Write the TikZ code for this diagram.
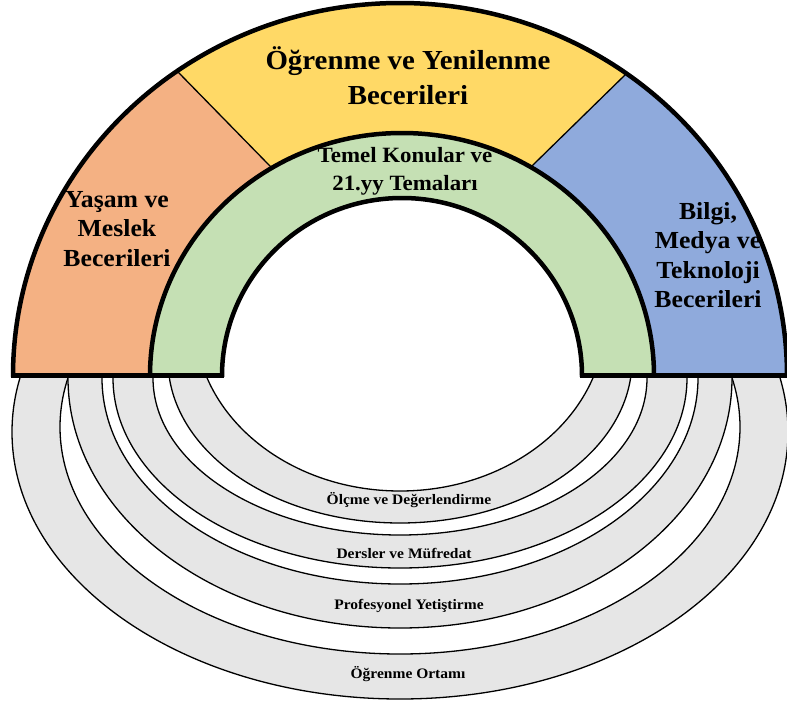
\documentclass[tikz,border=0pt]{standalone}
\usepackage{fontspec}
\setmainfont{Liberation Serif}
\newfontfamily\baslik[FakeStretch=1.05]{Liberation Serif}
\newfontfamily\altbaslik[FakeStretch=1.07]{Liberation Serif}
\usepackage{xcolor}
\usepackage{tikz}

\definecolor{turuncu}{HTML}{F4B183}
\definecolor{sari}{HTML}{FFD966}
\definecolor{yesil}{HTML}{C5E0B4}
\definecolor{mavi}{HTML}{8FAADC}
\definecolor{gri}{HTML}{E6E6E6}

\tikzset{
	kalin/.style={line width=4.5pt},
	bolucu/.style={line width=1.3pt},
	halka/.style={draw=black,line width=1.3pt},
	yazi/.style={inner sep=0pt,align=center},
	altyazi/.style={inner sep=0pt,font=\altbaslik\bfseries\fontsize{14.5}{16}\selectfont}
}

\begin{document}
\begin{tikzpicture}[x=1pt,y=-1pt]
	\useasboundingbox (0,0) rectangle (787,702);
	
	\coordinate (M) at (400,376);
	\coordinate (G) at (402,376);
	
	% alt halkalar
	\begin{scope}
		\clip (0,376) rectangle (787,702);
		\filldraw[halka,fill=gri] (400,432) ellipse [x radius=388,y radius=267];
		\filldraw[halka,fill=white] (400,427) ellipse [x radius=340,y radius=227];
		\filldraw[halka,fill=gri] (400,378) ellipse [x radius=332,y radius=250];
		\filldraw[halka,fill=white] (400,378) ellipse [x radius=298,y radius=206];
		\filldraw[halka,fill=gri] (400,378) ellipse [x radius=287,y radius=190];
		\filldraw[halka,fill=white] (400,378) ellipse [x radius=247,y radius=157];
		\filldraw[halka,fill=gri] (400,360) ellipse [x radius=232,y radius=163];
		\filldraw[halka,fill=white] (400,320) ellipse [x radius=205,y radius=171];
	\end{scope}
	
	% ust yarim daire
	\coordinate (D1a) at (90,-18);
	\coordinate (D1b) at (312.5,209.5);
	\coordinate (D2a) at (717,-15);
	\coordinate (D2b) at (489.5,207.5);
	\begin{scope}
		\clip (0,0) rectangle (787,376);
		\fill[turuncu] (M) ellipse [x radius=387,y radius=373];
		\begin{scope}
			\clip (M) ellipse [x radius=387,y radius=373];
			\fill[sari] (D1a) -- (D1b) -- (D2b) -- (D2a) -- cycle;
			\fill[mavi] (D2a) -- (D2b) -- (489.5,380) -- (800,380) -- (800,-15) -- cycle;
			\draw[bolucu] (D1a) -- (D1b);
			\draw[bolucu] (D2a) -- (D2b);
		\end{scope}
		\fill[yesil] (G) ellipse [x radius=252,y radius=243];
		\fill[white] (G) ellipse [x radius=180,y radius=178];
		\draw[kalin] (M) ellipse [x radius=387,y radius=373];
		\draw[kalin] (G) ellipse [x radius=252,y radius=243];
		\draw[kalin] (G) ellipse [x radius=180,y radius=178];
	\end{scope}
	\draw[kalin] (11,375.5) -- (224,375.5);
	\draw[kalin] (580,375.5) -- (787,375.5);
	
	\node[yazi,font={\baslik\bfseries\fontsize{27.5}{35}\selectfont}] (ogrenme) at (408,75.5) {Öğrenme ve Yenilenme\\Becerileri};
	\node[yazi,font={\baslik\bfseries\fontsize{21.8}{28}\selectfont}] (temel) at (405,171) {Temel Konular ve\\21.yy Temaları};
	\node[yazi,font={\baslik\bfseries\fontsize{24.5}{29.5}\selectfont}] (yasam) at (117,229) {Yaşam ve\\Meslek\\Becerileri};
	\node[yazi,font={\baslik\bfseries\fontsize{24.5}{29.5}\selectfont}] (bilgi) at (708,255) {Bilgi,\\Medya ve\\Teknoloji\\Becerileri};
	
	\node[altyazi] (olcme) at (409,500) {Ölçme ve Değerlendirme};
	\node[altyazi] (dersler) at (404,553) {Dersler ve Müfredat};
	\node[altyazi] (profesyonel) at (409,606) {Profesyonel Yetiştirme};
	\node[altyazi] (ortam) at (408,674) {Öğrenme Ortamı};
\end{tikzpicture}
\end{document}
